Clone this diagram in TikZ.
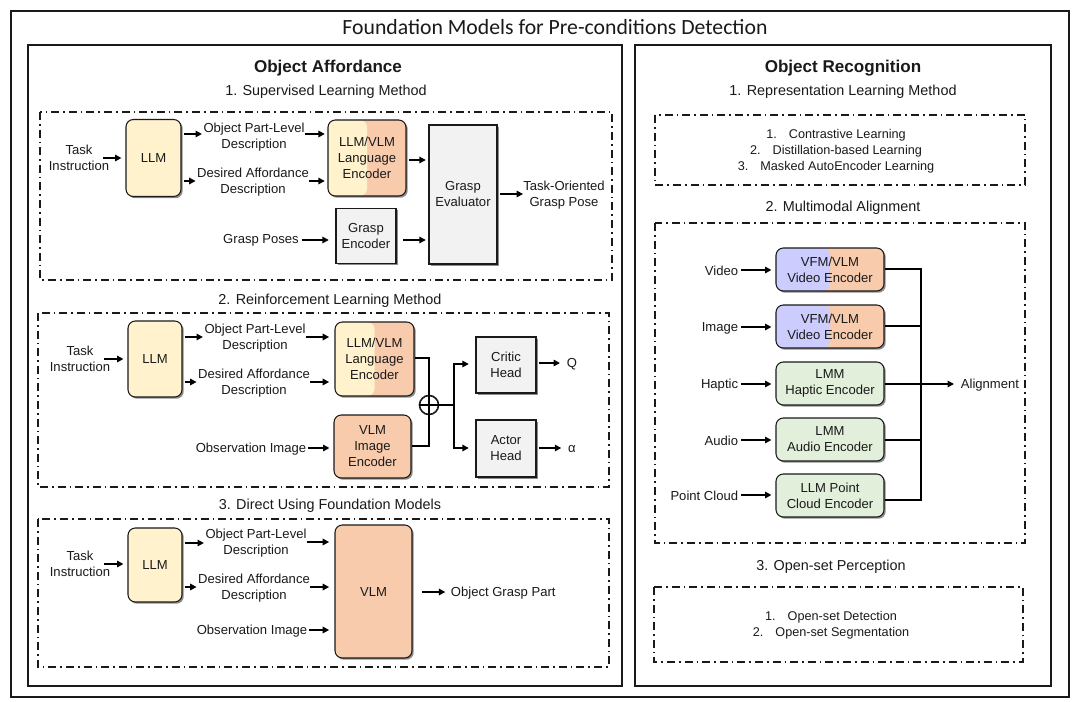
\documentclass[tikz,border=0pt]{standalone}
\usepackage{fontspec}
\setmainfont{Liberation Sans}
\newfontfamily\titlefont{Carlito}
\usetikzlibrary{arrows.meta,shadows,calc}
\def\pxu{0.75pt}
\definecolor{ylw}{HTML}{FFF2CC}
\definecolor{org}{HTML}{F8CBAD}
\definecolor{prp}{HTML}{CCCCFF}
\definecolor{grn}{HTML}{E2EFDA}
\definecolor{gry}{HTML}{F2F2F2}
\definecolor{ink}{HTML}{1A1A1A}
\begin{document}
\begin{tikzpicture}[x=0.75pt,y=-0.75pt,
  font=\fontsize{9.8}{12}\selectfont, text=ink,
  box/.style={draw=ink, line width=0.8pt, inner sep=0pt, align=center,
    drop shadow={shadow xshift=1.3pt, shadow yshift=-1.3pt, fill=black, opacity=0.45}},
  rbox/.style={box, rounded corners=5.5pt},
  ybox/.style={rbox, fill=ylw},
  obox/.style={rbox, fill=org},
  grnbox/.style={rbox, fill=grn},
  gbox/.style={box, fill=gry},
  halfbox/.style 2 args={rbox, fill=#2, path picture={\fill[#1] (path picture bounding box.south west) rectangle (path picture bounding box.north);}},
  txt/.style={inner sep=2pt, align=center},
  hd/.style={inner sep=0pt, font=\fontsize{10.8}{13}\selectfont},
  bighd/.style={inner sep=0pt, font=\bfseries\fontsize{12.8}{15}\selectfont},
  arr/.style={-{Triangle[length=4.8pt,width=4.8pt]}, line width=1.2pt},
  ln/.style={line width=1.2pt},
  frame/.style={draw=ink, line width=1.3pt},
  ddbox/.style={draw=ink, line width=1pt, dash pattern=on 6pt off 3pt on 1.2pt off 3pt},
]
\useasboundingbox (0,0) rectangle (1080,702);
\fill[white] (0,0) rectangle (1080,702);

% frames
\draw[frame, line width=1.1pt] (11,11) rectangle (1069,697);
\node[inner sep=0pt, font=\titlefont\fontsize{16.3}{19}\selectfont] (title) at (555,27) {Foundation Models for Pre-conditions Detection};
\draw[frame] (28,45) rectangle (622,686);
\draw[frame] (635,45) rectangle (1051,686);

% ================= LEFT PANEL =================
\node[bighd] (oa) at (328,68) {Object Affordance};
\node[hd] (s1) at (326,92) {1. Supervised Learning Method};
\node[hd] (s2) at (330,301) {2. Reinforcement Learning Method};
\node[hd] (s3) at (330,506) {3. Direct Using Foundation Models};

\draw[ddbox] (40,112) rectangle (612,280);
\draw[ddbox] (38,313) rectangle (609,487);
\draw[ddbox] (38,519) rectangle (609,667);

% ---- Section 1
\node[txt] (ti1) at (79,158) {Task\\Instruction};
\node[ybox, minimum width=55*\pxu, minimum height=77*\pxu] (llm1) at (153.5,158) {LLM};
\node[txt] (opd1) at (254,137) {Object Part-Level\\Description};
\node[txt] (dad1) at (253,182) {Desired Affordance\\Description};
\node[halfbox={ylw}{org}, minimum width=78*\pxu, minimum height=76*\pxu] (enc1) at (367,158) {LLM/VLM\\Language\\Encoder};
\node[gbox, minimum width=68*\pxu, minimum height=139*\pxu] (ge) at (463,194.5) {Grasp\\Evaluator};
\node[txt] (gp) at (261,240) {Grasp Poses};
\node[gbox, minimum width=60*\pxu, minimum height=55*\pxu] (genc) at (366,236) {Grasp\\Encoder};
\node[txt] (tog) at (564,195) {Task-Oriented\\Grasp Pose};

\draw[arr] ([xshift=-7pt]ti1.east) -- ([xshift=-3pt]ti1.east -| llm1.west);
\draw[arr] ([xshift=1.5pt]llm1.east |- 0,134) -- ([xshift=1pt]opd1.west |- 0,134);
\draw[arr] ([xshift=1.5pt]llm1.east |- 0,181) -- ([xshift=1pt]dad1.west |- 0,181);
\draw[arr] ([xshift=-2pt]opd1.east |- 0,134) -- ([xshift=-2pt]enc1.west |- 0,134);
\draw[arr] ([xshift=-2pt]dad1.east |- 0,181) -- ([xshift=-2pt]enc1.west |- 0,181);
\draw[arr] ([xshift=2pt]enc1.east |- 0,160) -- ([xshift=-2pt]ge.west |- 0,160);
\draw[arr] (gp.east |- 0,240) -- ([xshift=-5pt]genc.west |- 0,240);
\draw[arr] ([xshift=5pt]genc.east |- 0,240) -- ([xshift=-2pt]ge.west |- 0,240);
\draw[arr] ([xshift=1.5pt]ge.east |- 0,194) -- ([xshift=2pt]tog.west |- 0,194);

% ---- Section 2
\node[txt] (ti2) at (80,359) {Task\\Instruction};
\node[ybox, minimum width=54*\pxu, minimum height=76*\pxu] (llm2) at (155,359) {LLM};
\node[txt] (opd2) at (255,338) {Object Part-Level\\Description};
\node[txt] (dad2) at (254,383) {Desired Affordance\\Description};
\node[halfbox={ylw}{org}, minimum width=79*\pxu, minimum height=74*\pxu] (enc2) at (374.5,359) {LLM/VLM\\Language\\Encoder};
\node[obox, minimum width=77*\pxu, minimum height=63*\pxu] (img2) at (372.5,446.5) {VLM\\Image\\Encoder};
\node[txt] (obs2) at (251,449) {Observation Image};
\node[draw=ink, line width=1.2pt, circle, minimum size=19*\pxu, inner sep=0pt] (op) at (429,405) {};
\draw[ln] (op.north) -- (op.south) (op.west) -- (op.east);
\node[gbox, minimum width=60*\pxu, minimum height=56*\pxu] (critic) at (506,365) {Critic\\Head};
\node[gbox, minimum width=60*\pxu, minimum height=57*\pxu] (actor) at (506,448.5) {Actor\\Head};
\node[txt] (q) at (572,364) {Q};
\node[txt] (al) at (572,449) {α};
\coordinate (sp) at (454,405);

\draw[arr] ([xshift=-7pt]ti2.east) -- ([xshift=-3pt]ti2.east -| llm2.west);
\draw[arr] ([xshift=1.5pt]llm2.east |- 0,337) -- ([xshift=1pt]opd2.west |- 0,337);
\draw[arr] ([xshift=1.5pt]llm2.east |- 0,382) -- ([xshift=1pt]dad2.west |- 0,382);
\draw[arr] ([xshift=-2pt]opd2.east |- 0,337) -- ([xshift=-4pt]enc2.west |- 0,337);
\draw[arr] ([xshift=-2pt]dad2.east |- 0,382) -- ([xshift=-4pt]enc2.west |- 0,382);
\draw[arr] ([xshift=-1pt]obs2.east |- 0,448) -- ([xshift=-3pt]img2.west |- 0,448);
\draw[ln] (enc2.east |- 0,358) -| (op.north);
\draw[ln] (img2.east |- 0,446) -| (op.south);
\draw[ln] (op.east) -- (sp);
\draw[arr] (sp) |- ([xshift=-5pt]critic.west |- 0,364);
\draw[arr] (sp) |- ([xshift=-5pt]actor.west |- 0,448);
\draw[arr] ([xshift=1.5pt]critic.east |- 0,363) -- ([xshift=-3pt]q.west |- 0,363);
\draw[arr] ([xshift=1.5pt]actor.east |- 0,448) -- ([xshift=-3pt]al.west |- 0,448);

% ---- Section 3
\node[txt] (ti3) at (80,564) {Task\\Instruction};
\node[ybox, minimum width=54*\pxu, minimum height=74*\pxu] (llm3) at (155,565) {LLM};
\node[txt] (opd3) at (256,543) {Object Part-Level\\Description};
\node[txt] (dad3) at (254,588) {Desired Affordance\\Description};
\node[txt] (obs3) at (252,631) {Observation Image};
\node[obox, minimum width=77*\pxu, minimum height=133*\pxu] (vlm) at (373.5,591.5) {VLM};
\node[txt, anchor=west] (ogp) at (448,593) {Object Grasp Part};

\draw[arr] ([xshift=-7pt]ti3.east) -- ([xshift=-3pt]ti3.east -| llm3.west);
\draw[arr] ([xshift=1.5pt]llm3.east |- 0,543) -- ([xshift=1pt]opd3.west |- 0,543);
\draw[arr] ([xshift=1.5pt]llm3.east |- 0,587) -- ([xshift=1pt]dad3.west |- 0,587);
\draw[arr] ([xshift=-2pt]opd3.east |- 0,542) -- ([xshift=-4pt]vlm.west |- 0,542);
\draw[arr] ([xshift=-2pt]dad3.east |- 0,587) -- ([xshift=-4pt]vlm.west |- 0,587);
\draw[arr] ([xshift=-1pt]obs3.east |- 0,630) -- ([xshift=-4pt]vlm.west |- 0,630);
\draw[arr] ([xshift=7pt]vlm.east |- 0,592) -- ([xshift=-2pt]ogp.west |- 0,592);

% ================= RIGHT PANEL =================
\node[bighd] (orc) at (843,68) {Object Recognition};
\node[hd] (r1) at (843,92) {1. Representation Learning Method};
\node[hd] (r2) at (843,208) {2. Multimodal Alignment};
\node[hd] (r3) at (831,567) {3. Open-set Perception};

\draw[ddbox] (655,115) rectangle (1025,185);
\draw[ddbox] (655,223) rectangle (1025,543);
\draw[ddbox] (654,587) rectangle (1023,662);

\node[inner sep=0pt, align=center, font=\fontsize{9.5}{12}\selectfont] (rl) at (836,151)
  {1.\hspace{0.95em}Contrastive Learning\\2.\hspace{0.95em}Distillation-based Learning\\3.\hspace{0.95em}Masked AutoEncoder Learning};
\node[inner sep=0pt, align=center, font=\fontsize{9.5}{12}\selectfont] (osp) at (831,625)
  {1.\hspace{0.95em}Open-set Detection\\2.\hspace{0.95em}Open-set Segmentation};

% modality encoders
\node[halfbox={prp}{org}, minimum width=108*\pxu, minimum height=43*\pxu] (ev) at (830,269.5) {VFM/VLM\\Video Encoder};
\node[halfbox={prp}{org}, minimum width=108*\pxu, minimum height=43*\pxu] (ei) at (830,326.5) {VFM/VLM\\Video Encoder};
\node[grnbox, minimum width=108*\pxu, minimum height=43*\pxu] (eh) at (830,383.5) {LMM\\Haptic Encoder};
\node[grnbox, minimum width=108*\pxu, minimum height=43*\pxu] (ea) at (830,439.5) {LMM\\Audio Encoder};
\node[grnbox, minimum width=108*\pxu, minimum height=43*\pxu] (ep) at (830,495.5) {LLM Point\\Cloud Encoder};

\node[txt, anchor=east] (iv) at (741,271) {Video};
\node[txt, anchor=east] (ii) at (741,328) {Image};
\node[txt, anchor=east] (ih) at (741,385) {Haptic};
\node[txt, anchor=east] (ia) at (741,441) {Audio};
\node[txt, anchor=east] (ip) at (741,496) {Point Cloud};
\node[txt, anchor=west] (align) at (958,385) {Alignment};
\coordinate (bus) at (921,384);

\foreach \a/\b/\y in {iv/ev/270, ii/ei/327, ih/eh/384, ia/ea/440, ip/ep/495}{
  \draw[arr] (\a.east |- 0,\y) -- ([xshift=-3pt]\b.west |- 0,\y);
}
\draw[ln] (ev.east |- 0,269) -| (bus);
\draw[ln] (ei.east |- 0,326) -| (bus);
\draw[ln] (ea.east |- 0,440) -| (bus);
\draw[ln] (ep.east |- 0,500) -| (bus);
\draw[ln] (eh.east |- 0,384) -- (bus);
\draw[arr] (bus) -- ([xshift=-3pt]align.west |- bus);
\end{tikzpicture}
\end{document}
